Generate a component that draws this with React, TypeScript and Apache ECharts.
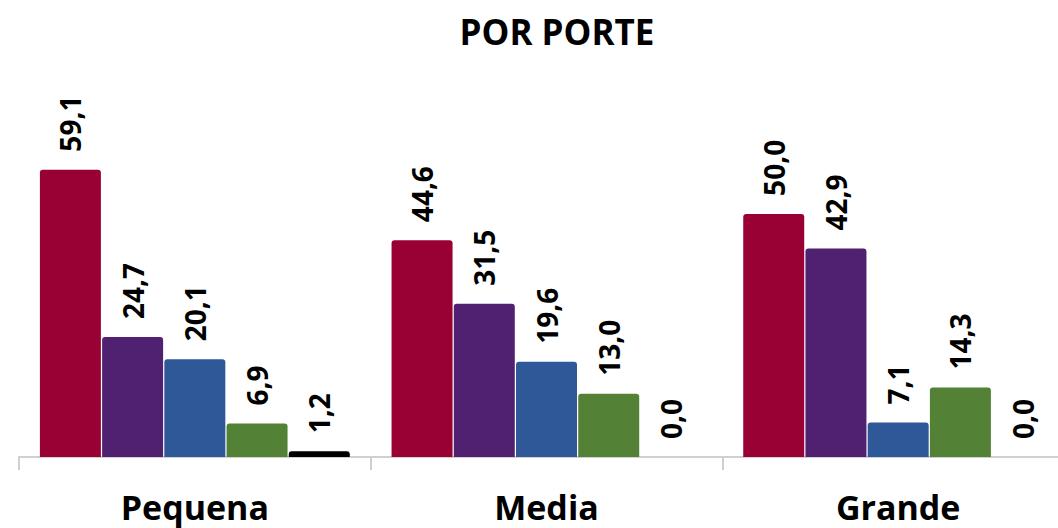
import React, { useEffect, useRef } from "react";
import * as echarts from "echarts";

const categories = ["Pequena", "Media", "Grande"];
const seriesA = [59.1, 44.6, 50.0];
const seriesB = [24.7, 31.5, 42.9];
const seriesC = [20.1, 19.6, 7.1];
const seriesD = [6.9, 13.0, 14.3];
const seriesE = [1.2, 0.0, 0.0];
const colors = ["#990033", "#4F2170", "#2E5897", "#538135", "#000000"];
const titleText = "POR PORTE";

export default function App() {
  const ref = useRef<HTMLDivElement>(null);
  useEffect(() => {
    const chart = echarts.init(ref.current!, undefined, { renderer: "svg" });
    const font = "'Open Sans', sans-serif";
    const all = [seriesA, seriesB, seriesC, seriesD, seriesE];
    chart.setOption({
      animation: false,
      graphic: [
        {
          type: "text",
          x: 557,
          y: 31,
          style: {
            text: titleText,
            fontFamily: font,
            fontWeight: "bold",
            fontSize: 35,
            fill: "#000",
            textAlign: "center",
            textVerticalAlign: "middle",
          },
        },
      ],
      grid: { left: 19, right: 0, top: 68, bottom: 71 },
      xAxis: {
        type: "category",
        data: categories,
        axisLine: { lineStyle: { color: "#d0d0d0", width: 2 } },
        axisTick: { show: true, length: 13, lineStyle: { color: "#d0d0d0", width: 2 } },
        axisLabel: {
          margin: 33,
          fontFamily: font,
          fontWeight: "bold",
          fontSize: 34,
          color: "#000",
        },
      },
      yAxis: { type: "value", min: 0, max: 80, show: false, splitLine: { show: false } },
      series: all.map((d, i) => ({
        type: "bar",
        data: d,
        barWidth: 61,
        barGap: "2%",
        itemStyle: { color: colors[i], borderRadius: [3, 3, 0, 0] },
        label: {
          show: true,
          position: "top",
          rotate: 90,
          align: "left",
          verticalAlign: "middle",
          distance: 18,
          fontFamily: font,
          fontWeight: "bold",
          fontSize: 28,
          color: "#000",
          formatter: (p: any) => Number(p.value).toFixed(1).replace(".", ","),
        },
      })),
    });
    return () => chart.dispose();
  }, []);
  return (
    <div
      ref={ref}
      style={{ position: "fixed", left: 0, top: 0, width: 1074, height: 528, background: "#fff" }}
    />
  );
}
